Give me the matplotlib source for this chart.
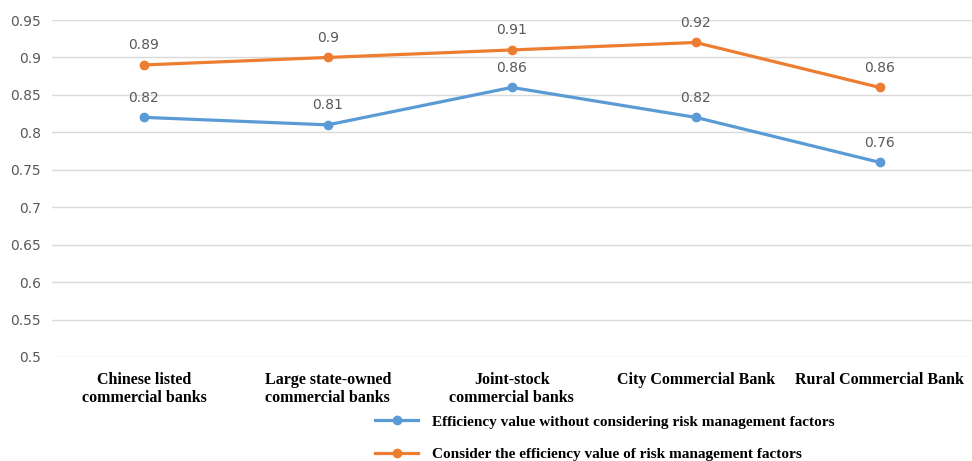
import numpy as np
import matplotlib
matplotlib.use("Agg")
import matplotlib.pyplot as plt

categories = ["Chinese listed\ncommercial banks", "Large state-owned\ncommercial banks",
              "Joint-stock\ncommercial banks", "City Commercial Bank", "Rural Commercial Bank"]
without_risk = [0.82, 0.81, 0.86, 0.82, 0.76]
with_risk = [0.89, 0.90, 0.91, 0.92, 0.86]
yticks = [0.5, 0.55, 0.6, 0.65, 0.7, 0.75, 0.8, 0.85, 0.9, 0.95]
ytick_labels = ["0.5", "0.55", "0.6", "0.65", "0.7", "0.75", "0.8", "0.85", "0.9", "0.95"]

blue = "#5B9BD5"
orange = "#ED7D31"
grey = "#595959"

fig = plt.figure(figsize=(9.72, 4.61), dpi=100)
ax = fig.add_axes([0.0535, 0.2256, 0.946, 0.731])

x = np.arange(len(categories))
l1, = ax.plot(x, without_risk, color=blue, lw=2.3, marker="o", ms=6,
              label="Efficiency value without considering risk management factors")
l2, = ax.plot(x, with_risk, color=orange, lw=2.3, marker="o", ms=6,
              label="Consider the efficiency value of risk management factors")

for xi, v in zip(x, without_risk):
    ax.annotate(f"{v:g}", (xi, v), xytext=(0, 9), textcoords="offset points",
                ha="center", va="bottom", fontsize=10, color=grey)
for xi, v in zip(x, with_risk):
    ax.annotate(f"{v:g}", (xi, v), xytext=(0, 9), textcoords="offset points",
                ha="center", va="bottom", fontsize=10, color=grey)

ax.set_xlim(-0.5, 4.5)
ax.set_ylim(0.5, 0.95)
ax.set_yticks(yticks)
ax.set_yticklabels(ytick_labels, fontsize=10, color=grey)
ax.set_xticks(x)
ax.set_xticklabels(categories, fontsize=11.5, fontweight="bold",
                   family="Liberation Serif", color="black", linespacing=1.15)
ax.tick_params(axis="both", length=0)
ax.tick_params(axis="x", pad=11)
ax.tick_params(axis="y", pad=8)
ax.grid(axis="y", color="#D9D9D9", lw=1)
ax.set_axisbelow(True)
for s in ax.spines.values():
    s.set_visible(False)

fig.legend(handles=[l1, l2], loc="upper left", bbox_to_anchor=(0.386, 0.1),
           frameon=False, prop={"family": "Liberation Serif", "weight": "bold", "size": 11},
           labelspacing=1.25, handlelength=2.8, handletextpad=0.9,
           borderaxespad=0, borderpad=0)

fig.savefig("out.png", dpi=100)
